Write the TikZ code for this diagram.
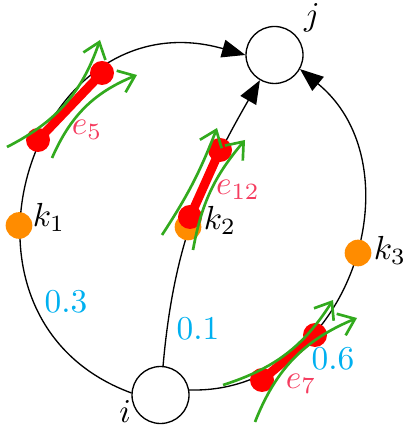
\documentclass[tikz,border=0pt]{standalone}
\usepackage{amsmath,amssymb}
\usepackage{xcolor}
\usepackage{tikz}
\usetikzlibrary{arrows.meta}
\definecolor{hitred}{RGB}{255,0,0}
\definecolor{keyorange}{RGB}{255,140,0}
\definecolor{flowgreen}{RGB}{50,170,30}
\definecolor{labred}{RGB}{245,60,95}
\definecolor{wcyan}{RGB}{0,176,240}

\begin{document}
\begin{tikzpicture}[x=0.3pt, y=0.3pt, >={Triangle[length=7pt,width=5.4pt]},
  vtx/.style={circle, draw, line width=0.4pt, minimum size=17.1pt, inner sep=0pt},
  key/.style={circle, fill=keyorange, minimum size=8pt, inner sep=0pt},
  hit/.style={circle, fill=hitred, minimum size=7.2pt, inner sep=0pt},
  seg/.style={hitred, line width=2.7pt},
  flow/.style={flowgreen, line width=0.8pt, -{Straight Barb[length=4.5pt,width=7pt]}},
  wt/.style={wcyan}, elab/.style={labred}]
  \useasboundingbox (0,0) rectangle (409,425);
  % the two end vertices
  \node[vtx] (i) at (160.5,30) {};
  \node[vtx] (j) at (274.5,370) {};
  \node (li) at (125,13) {$i$};
  \node (lj) at (312,407) {$j$};
  % paths from i to j
  \draw[->, line width=0.4pt] (i.176) .. controls +(-204,75) and +(-215,61) .. (j.180);
  \draw[->, line width=0.4pt] (i) to[out=85, in=240] (j);
  \draw[->, line width=0.4pt] (i.10) .. controls +(159,-5) and +(121,-99) .. (j.-29);
  \node[wt] (w3) at (66,123) {$0.3$};
  \node[wt] (w1) at (198,96) {$0.1$};
  \node[wt] (w6) at (333,66) {$0.6$};
  % key points
  \node[key] (k1) at (19,199.5) {};
  \node[key] (k2) at (188,198) {};
  \node[key] (k3) at (358,172) {};
  \node (lk1) at (49,208) {$k_1$};
  \node (lk2) at (220,205) {$k_2$};
  \node (lk3) at (390,175) {$k_3$};
  % hit edges
  \node[hit] (r5a) at (38,285) {};
  \node[hit] (r5b) at (102,352) {};
  \node[hit] (r12a) at (190,208) {};
  \node[hit] (r12b) at (220,275) {};
  \node[hit] (r7a) at (262,45) {};
  \node[hit] (r7b) at (315,90) {};
  \draw[seg] (r5a.center) -- (r5b.center);
  \draw[seg] (r12a.center) -- (r12b.center);
  \draw[seg] (r7a.center) -- (r7b.center);
  \node[elab] (e5) at (87,295) {$e_5$};
  \node[elab] (e12) at (238,235) {$e_{12}$};
  \node[elab] (e7) at (301,41) {$e_7$};
  % flow arrows along the hit edges
  \coordinate (f5a) at (7,278);   \coordinate (f5b) at (100,385);
  \coordinate (f5c) at (52,267);  \coordinate (f5d) at (137,350);
  \coordinate (f12a) at (162,190); \coordinate (f12b) at (217,297);
  \coordinate (f12c) at (193,175); \coordinate (f12d) at (245,285);
  \coordinate (f7a) at (223,40);  \coordinate (f7b) at (333,125);
  \coordinate (f7c) at (255,3);   \coordinate (f7d) at (357,107);
  \draw[flow] (f5a) to[bend right=22] (f5b);
  \draw[flow] (f5c) to[bend left=22] (f5d);
  \draw[flow] (f12a) to[bend right=6] (f12b);
  \draw[flow] (f12c) to[bend left=15] (f12d);
  \draw[flow] (f7a) to[bend right=20] (f7b);
  \draw[flow] (f7c) to[bend left=23] (f7d);
\end{tikzpicture}
\end{document}
